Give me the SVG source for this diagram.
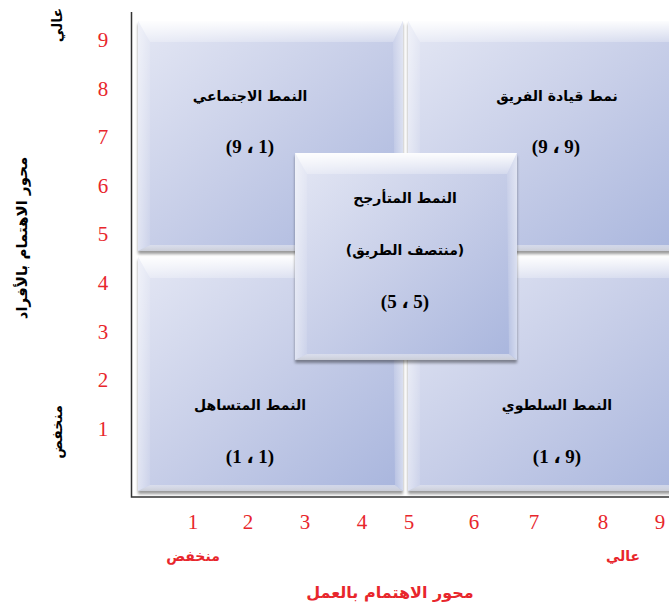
<svg xmlns="http://www.w3.org/2000/svg" width="669" height="606" viewBox="0 0 669 606">
<defs>
  <linearGradient id="body" x1="0" y1="0" x2="1" y2="1">
    <stop offset="0" stop-color="#e4e7f4"/>
    <stop offset="0.5" stop-color="#c7cee8"/>
    <stop offset="1" stop-color="#a8b5dd"/>
  </linearGradient>
  <linearGradient id="bevTop" x1="0" y1="0" x2="0" y2="1">
    <stop offset="0" stop-color="#ffffff" stop-opacity="0.95"/>
    <stop offset="1" stop-color="#ffffff" stop-opacity="0.25"/>
  </linearGradient>
  <linearGradient id="bevLeft" x1="0" y1="0" x2="1" y2="0">
    <stop offset="0" stop-color="#ffffff" stop-opacity="0.45"/>
    <stop offset="1" stop-color="#ffffff" stop-opacity="0.1"/>
  </linearGradient>
  <linearGradient id="bevRight" x1="1" y1="0" x2="0" y2="0">
    <stop offset="0" stop-color="#ffffff" stop-opacity="0.5"/>
    <stop offset="1" stop-color="#ffffff" stop-opacity="0.1"/>
  </linearGradient>
  <linearGradient id="bevBot" x1="0" y1="0" x2="0" y2="1">
    <stop offset="0" stop-color="#e6e8f0" stop-opacity="0.6"/>
    <stop offset="1" stop-color="#c9ccd6"/>
  </linearGradient>
  <filter id="sh" x="-5%" y="-5%" width="110%" height="115%">
    <feGaussianBlur in="SourceAlpha" stdDeviation="1.8"/>
    <feOffset dx="0" dy="2.5" result="b"/>
    <feComponentTransfer><feFuncA type="linear" slope="0.4"/></feComponentTransfer>
    <feMerge><feMergeNode/><feMergeNode in="SourceGraphic"/></feMerge>
  </filter>
</defs>
<style>
  .body{fill:url(#body);}
  .bt{fill:url(#bevTop);}
  .bl{fill:url(#bevLeft);}
  .br{fill:url(#bevRight);}
  .bb{fill:url(#bevBot);}
  .lbl{font-family:"DejaVu Sans",sans-serif;font-weight:bold;font-size:14px;fill:#000;text-anchor:middle;}
  .num{font-family:"Liberation Serif","DejaVu Sans",serif;font-weight:bold;font-size:19px;fill:#000;text-anchor:middle;direction:ltr;unicode-bidi:bidi-override;}
  .tick{font-family:"Liberation Serif",serif;font-size:21px;fill:#e8262c;text-anchor:middle;}
  .red{font-family:"DejaVu Sans",sans-serif;font-weight:bold;font-size:14px;fill:#e8262c;text-anchor:middle;}
  .ax{font-family:"DejaVu Sans",sans-serif;font-weight:bold;font-size:14px;fill:#000;text-anchor:middle;}
  .axis{stroke:#333;stroke-width:1.5;fill:none;}
</style>
<rect width="669" height="606" fill="#ffffff"/>

<g id="axes">
  <path class="axis" d="M131.5,12 V497 H669"/>
</g>

<g id="node-social">
  <rect class="body" x="138" y="21" width="265" height="230" filter="url(#sh)"/>
  <polygon class="bt" points="138,21 403,21 393,42 150,42"/>
  <polygon class="bl" points="138,21 150,42 150,245 138,251"/>
  <polygon class="br" points="403,21 403,251 395,245 393,42"/>
  <polygon class="bb" points="138,251 150,245 395,245 403,251"/>
  <text class="lbl" x="250" y="101">النمط الاجتماعي</text>
  <text class="num" x="250" y="153">(9 ، 1)</text>
</g>

<g id="node-team">
  <rect class="body" x="408" y="21" width="282" height="230" filter="url(#sh)"/>
  <polygon class="bt" points="408,21 690,21 680,42 420,42"/>
  <polygon class="bl" points="408,21 420,42 420,245 408,251"/>
  <polygon class="bb" points="408,251 420,245 682,245 690,251"/>
  <text class="lbl" x="557" y="101">نمط قيادة الفريق</text>
  <text class="num" x="556" y="153">(9 ، 9)</text>
</g>

<g id="node-permissive">
  <rect class="body" x="138" y="257" width="265" height="234" filter="url(#sh)"/>
  <polygon class="bt" points="138,257 403,257 393,278 150,278"/>
  <polygon class="bl" points="138,257 150,278 150,485 138,491"/>
  <polygon class="br" points="403,257 403,491 395,485 393,278"/>
  <polygon class="bb" points="138,491 150,485 395,485 403,491"/>
  <text class="lbl" x="250" y="410">النمط المتساهل</text>
  <text class="num" x="250" y="463">(1 ، 1)</text>
</g>

<g id="node-authoritarian">
  <rect class="body" x="408" y="257" width="282" height="234" filter="url(#sh)"/>
  <polygon class="bt" points="408,257 690,257 680,278 420,278"/>
  <polygon class="bl" points="408,257 420,278 420,485 408,491"/>
  <polygon class="bb" points="408,491 420,485 682,485 690,491"/>
  <text class="lbl" x="557" y="410">النمط السلطوي</text>
  <text class="num" x="557" y="463">(1 ، 9)</text>
</g>

<g id="node-middle">
  <rect class="body" x="295" y="153" width="222" height="207" filter="url(#sh)"/>
  <polygon class="bt" points="295,153 517,153 507,174 307,174"/>
  <polygon class="bl" points="295,153 307,174 307,354 295,360"/>
  <polygon class="br" points="517,153 517,360 509,354 507,174"/>
  <polygon class="bb" points="295,360 307,354 509,354 517,360"/>
  <text class="lbl" x="405" y="203">النمط المتأرجح</text>
  <text class="lbl" x="405" y="255">(منتصف الطريق)</text>
  <text class="num" x="405" y="308">(5 ، 5)</text>
</g>

<g id="y-ticks">
  <text class="tick" x="103" y="47">9</text>
  <text class="tick" x="103" y="96">8</text>
  <text class="tick" x="103" y="144">7</text>
  <text class="tick" x="103" y="193">6</text>
  <text class="tick" x="103" y="241">5</text>
  <text class="tick" x="103" y="290">4</text>
  <text class="tick" x="103" y="339">3</text>
  <text class="tick" x="103" y="387">2</text>
  <text class="tick" x="103" y="436">1</text>
</g>

<g id="x-ticks">
  <text class="tick" x="193" y="529">1</text>
  <text class="tick" x="248" y="529">2</text>
  <text class="tick" x="305" y="529">3</text>
  <text class="tick" x="362" y="529">4</text>
  <text class="tick" x="409" y="529">5</text>
  <text class="tick" x="474" y="529">6</text>
  <text class="tick" x="534" y="529">7</text>
  <text class="tick" x="603" y="529">8</text>
  <text class="tick" x="660" y="529">9</text>
</g>

<g id="x-labels">
  <text class="red" x="193" y="561">منخفض</text>
  <text class="red" x="623" y="561">عالي</text>
  <text class="red" x="390" y="598" style="font-size:16px">محور الاهتمام بالعمل</text>
</g>

<g id="y-labels">
  <text class="ax" transform="translate(27,238) rotate(-90)" style="font-size:15px">محور الاهتمام بالأفراد</text>
  <text class="ax" transform="translate(62,25) rotate(-90)">عالي</text>
  <text class="ax" transform="translate(62,432) rotate(-90)">منخفض</text>
</g>
</svg>
